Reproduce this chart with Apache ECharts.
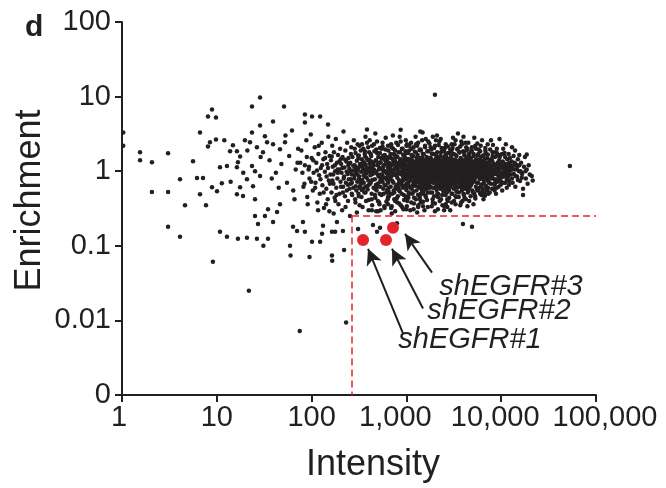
<!DOCTYPE html>
<html>
<head>
<meta charset="utf-8">
<script src="https://cdn.jsdelivr.net/npm/echarts@6/dist/echarts.min.js"></script>
<style>html,body{margin:0;padding:0;background:#fff}#c{width:666px;height:488px}</style>
</head>
<body>
<div id="c"></div>
<script>
// ---- data ----
const xTicks = [1, 10, 100, 1000, 10000, 100000];
const xTickLabels = ['1', '10', '100', '1,000', '10,000', '100,000'];
const yTicks = [0.001, 0.01, 0.1, 1, 10, 100];
const yTickLabels = ['0', '0.01', '0.1', '1', '10', '100'];

const intensityCutoff = 267;
const enrichmentCutoff = 0.255;

// [intensity, enrichment] – sparse, low intensity part of the screen
const lowIntensityPoints = [
[1.03,3.3],[1.03,2.2],[1.55,1.79],[1.55,1.4],[2.07,1.32],[3.06,1.74],[2.07,0.525],[3.06,0.525],[4.09,0.78],[4.62,0.35],
[3.06,0.18],[4.09,0.132],[5.61,1.36],[6.65,3.31],[6.18,0.81],[7.15,0.81],[6.65,0.49],[7.69,0.35],[8.07,5.41],[8.9,6.71],
[9.8,5.25],[8.07,2.15],[8.47,2.44],[9.8,2.67],[8.9,0.61],[10.05,0.54],[10.8,1.13],[11.3,0.69],[10.8,0.154],[12.8,0.132],
[16.7,0.124],[20.8,0.128],[26.5,0.124],[34.7,0.124],[28.6,9.7],[23.5,7.36],[28.6,4.1],[39.2,4.64],[51.2,7.36],[23.5,3.31],
[19.8,2.59],[22.4,2.44],[14.8,2.22],[16.3,1.85],[13.8,1.85],[17.6,1.58],[16.7,1.32],[26.5,2.09],[32.2,2.93],[33.9,2.44],
[30.7,1.79],[12.8,1.17],[16.3,1.13],[23.5,1.17],[25.3,1.0],[28.6,0.86],[20.8,0.78],[24.1,0.63],[17.6,0.61],[16.3,0.49],
[18.9,0.465],[25.3,0.42],[25.3,0.25],[27.2,0.196],[32.2,0.25],[34.7,0.31],[39.2,0.209],[43.2,0.284],[46.4,0.36],[59.2,0.1],
[63.7,0.18],[70.2,0.158],[81,0.209],[85,0.154],[101,0.113],[123,0.113],[129,0.145],[132,0.185],[164,0.154],[185,0.209],
[214,0.158],[254,0.25],[384,3.63],[85,5.75],[101,5.41],[123,5.41],[85,4.5],[149,4.23],[62.1,3.52],[39.2,2.29],
[46.4,1.97],[52.4,2.44],[177,0.154],[309,0.168],[444,0.19],[490,0.154],[527,0.174],[795,0.2],[3950,0.196],[4920,0.18],
[220,0.088],[164,0.074],[231,0.0094],[9.1,0.061],[21.8,0.025],[75,0.0072],[31,0.1],[60,0.074],[95,0.071],[165,0.063],
[36,1.4],[42,0.95],[48,1.25],[55,0.7],[58,1.6],[64,0.55],[68,1.05],[72,2.0],[45,0.6],[38,0.8],
[29,1.55],[21,1.9],[19,0.95],[14,0.72],[12,2.6],[53,3.0],[66,0.42],[71,1.3]
];

// [intensity, enrichment] – the main cloud, outer part
const cloudPoints = [
[78,1.9],[82,0.62],[85,1.2],[88,2.6],[90,0.45],[93,1.05],[95,0.8],[98,3.1],[100,1.5],[103,0.55],[105,0.95],[108,2.1],[110,0.7],[112,1.3],[115,0.38],[118,1.7],[120,0.88],[122,0.5],[125,1.1],[128,2.4],[130,0.65],[133,1.45],[135,0.32],[138,0.98],[140,1.8],[143,0.58],[146,1.25],[148,0.42],[150,2.9],[152,0.75],[155,1.6],[154,0.29],
[158,0.9],[160,1.4],[162,0.52],[165,2.2],[167,1.15],[170,0.68],[172,1.8],[175,0.44],[177,1.0],[180,2.7],[182,0.6],[185,1.3],[187,0.8],[190,1.65],[192,0.36],[195,1.05],[197,0.5],[200,2.0],[202,0.72],[205,1.25],[207,0.95],[210,0.3],[212,1.55],[215,0.62],[217,3.4],[220,0.85],[222,1.12],[225,0.46],[227,1.9],[230,0.7],[232,1.35],[235,0.55],[237,2.4],[240,0.92],[242,0.4],[245,1.5],[247,0.78],[250,1.08],[252,0.58],[171,0.27],[188,1.05],[203,1.45],[228,0.33],[244,1.2],[166,0.75],
[256,1.3],[258,0.68],[262,2.1],[265,0.9],[268,0.48],[270,1.55],[273,1.02],[276,0.6],[279,2.6],[282,0.8],[285,1.2],[288,0.42],[291,1.75],[294,0.95],[297,0.55],[300,1.38],[303,0.72],[306,2.3],[309,1.08],[312,0.5],[315,1.62],[318,0.85],[321,0.35],[324,1.25],[327,0.65],[330,1.9],[333,0.98],[336,0.45],[339,1.45],[342,0.76],[345,1.15],[348,0.58],[351,2.0],[354,0.88],[357,1.32],[360,0.52],[363,1.7],[366,1.0],[369,0.62],[372,1.22],[375,0.4],[378,1.5],[381,0.82],[384,2.4],[387,1.1],[390,0.57],[393,1.4],[396,0.75],[399,0.3],[402,1.05],[405,1.8],[408,0.67],[411,1.28],[260,0.78],[290,1.1],[320,0.6],[350,1.05],[380,0.93],[300,0.28],[370,2.9],
[415,1.15],[420,0.7],[425,1.6],[430,0.5],[435,2.2],[440,0.92],[445,1.3],[450,0.6],[455,1.05],[460,1.85],[465,0.78],[470,0.44],[475,1.4],[480,0.98],[485,0.55],[490,2.5],[495,1.2],[500,0.68],[505,1.55],[510,0.85],[515,0.38],[520,1.1],[525,1.75],[530,0.62],[535,1.32],[540,0.9],[545,0.48],[550,2.0],[555,1.08],[560,0.72],[565,1.48],[570,0.58],[575,1.2],[580,0.82],[585,0.34],[590,1.65],[595,1.0],[600,0.65],[605,2.8],[610,1.25],[615,0.52],[620,0.94],[625,1.42],[630,0.75],[635,0.42],[640,1.12],[645,1.9],[650,0.6],[655,1.3],[660,0.86],[665,0.5],[668,1.55],[418,0.88],[448,1.0],[478,0.66],[508,1.25],[538,0.78],[568,1.02],[598,1.38],[628,0.56],[658,1.05],[432,0.3],[502,0.29],[588,0.32],[470,3.2],[560,2.4],[640,0.36],[428,1.35],[612,0.8],[522,0.5],
[675,1.1],[682,0.62],[688,1.5],[695,0.85],[700,2.1],[708,0.5],[715,1.25],[722,0.96],[730,0.7],[738,1.7],[745,0.42],[752,1.08],[760,1.35],[768,0.58],[775,0.88],[782,2.4],[790,1.15],[798,0.66],[805,1.55],[812,0.46],[820,1.0],[828,1.8],[835,0.76],[842,1.28],[850,0.54],[858,0.95],[865,1.45],[872,0.35],[880,1.12],[888,0.7],[895,2.0],[902,0.9],[910,1.3],[918,0.6],[925,1.65],[932,0.82],[940,0.48],[948,1.2],[955,1.0],[962,0.64],[970,1.5],[978,0.78],[985,2.6],[992,1.05],[1000,0.56],[1008,1.38],[1015,0.9],[1022,0.4],[1030,1.18],[1038,1.75],[1045,0.7],[1052,1.02],[1060,0.52],[1068,1.42],[1075,0.86],[1082,1.25],[1088,0.62],[678,0.78],[705,1.02],[735,0.55],[765,1.22],[795,0.92],[825,0.6],[855,1.2],[885,0.98],[915,0.74],[945,1.4],[975,1.1],[1005,0.68],[1035,0.95],[1065,1.15],[690,0.32],[760,0.29],[850,2.9],[930,0.31],[1010,0.34],[720,3.0],[1070,2.2],[800,0.38],[990,0.45],
[1095,1.05],[1105,0.6],[1115,1.45],[1125,0.82],[1135,2.0],[1145,1.18],[1155,0.5],[1165,0.92],[1175,1.6],[1185,0.7],[1195,1.3],[1205,0.44],[1215,1.0],[1225,1.82],[1235,0.64],[1245,1.22],[1255,0.86],[1265,2.3],[1275,0.55],[1285,1.4],[1295,0.98],[1305,0.74],[1315,1.65],[1325,0.48],[1335,1.12],[1345,0.84],[1355,1.35],[1365,0.6],[1375,1.92],[1385,1.02],[1395,0.68],[1405,1.5],[1415,0.38],[1425,1.15],[1435,0.8],[1445,1.28],[1455,0.56],[1465,2.6],[1475,0.95],[1485,1.42],[1495,0.66],[1505,1.08],[1515,0.5],[1525,1.7],[1535,0.88],[1545,1.25],[1555,0.62],[1565,1.0],[1575,2.1],[1585,0.76],[1595,1.36],[1605,0.45],[1615,1.14],[1625,0.9],[1635,1.55],[1645,0.58],[1655,1.05],[1665,0.72],[1675,1.3],[1685,0.52],[1695,1.85],[1705,0.96],[1715,1.2],[1725,0.66],[1735,1.45],[1745,0.82],[1755,1.1],[1765,0.6],[1100,0.9],[1160,1.25],[1220,0.75],[1280,1.12],[1340,0.95],[1400,0.7],[1460,1.2],[1520,0.85],[1580,1.05],[1640,1.18],[1700,0.78],[1760,0.94],[1190,0.31],[1330,0.33],[1550,0.3],[1250,2.9],[1480,3.3],[1700,2.5],[1390,0.42],
[1780,1.08],[1795,0.62],[1810,1.5],[1825,0.84],[1840,1.95],[1855,1.2],[1870,0.52],[1885,0.95],[1900,1.38],[1915,0.7],[1930,1.7],[1945,1.02],[1960,0.46],[1975,1.28],[1990,0.8],[2005,2.2],[2020,0.6],[2035,1.15],[2050,0.9],[2065,1.5],[2080,0.56],[2095,1.05],[2110,1.8],[2125,0.74],[2140,1.32],[2155,0.5],[2170,0.98],[2185,1.45],[2200,0.66],[2215,1.12],[2230,2.5],[2245,0.86],[2260,1.22],[2275,0.58],[2290,1.6],[2305,0.94],[2320,0.42],[2335,1.18],[2350,0.78],[2365,1.4],[2380,0.62],[2395,1.0],[2410,1.9],[2425,0.72],[2440,1.26],[2455,0.54],[2470,1.08],[2485,0.88],[2500,1.55],[2515,0.64],[2530,1.15],[2545,2.05],[2560,0.8],[2575,1.35],[2590,0.48],[2605,0.98],[2620,1.62],[2635,0.7],[2650,1.2],[2665,0.58],[2680,1.02],[2695,1.48],[2710,0.84],[2725,0.4],[2740,1.1],[2755,1.75],[2770,0.66],[2785,1.25],[2800,0.92],[2815,0.55],[2830,1.42],[2845,1.0],[2860,0.76],[2875,1.3],[1800,0.9],[1880,1.1],[1960,0.75],[2040,1.3],[2120,1.0],[2200,0.85],[2280,1.05],[2360,1.12],[2440,0.92],[2520,0.85],[2600,1.2],[2680,0.76],[2760,1.05],[2840,0.9],[1850,0.34],[2150,0.31],[2600,0.36],[2000,10.6],[1900,2.9],[2300,2.7],[2700,0.33],
[2900,1.12],[2920,0.64],[2945,1.55],[2970,0.86],[2995,1.9],[3020,1.02],[3045,0.5],[3070,1.3],[3095,0.76],[3120,1.7],[3145,0.95],[3170,0.58],[3195,1.22],[3220,2.3],[3245,0.82],[3270,1.42],[3295,0.68],[3320,1.05],[3345,0.45],[3370,1.6],[3395,0.9],[3420,1.18],[3445,0.6],[3470,2.0],[3495,1.0],[3520,0.74],[3545,1.35],[3570,0.52],[3595,1.1],[3620,1.78],[3645,0.84],[3670,1.25],[3695,0.62],[3720,0.98],[3745,1.5],[3770,0.72],[3795,2.5],[3820,1.15],[3845,0.55],[3870,0.92],[3895,1.4],[3920,0.66],[3945,1.06],[3970,1.85],[3995,0.8],[4020,1.28],[4045,0.48],[4070,1.0],[4095,1.62],[4120,0.7],[4145,1.2],[4170,0.88],[4195,0.58],[4220,1.45],[4245,1.02],[4270,2.1],[4295,0.76],[4320,1.3],[4345,0.62],[4370,1.08],[4395,0.9],[4420,1.55],[4445,0.52],[4470,1.16],[4495,0.82],[4520,1.38],[4545,0.68],[4570,1.0],[4595,1.72],[4620,0.6],[4645,1.22],[4670,0.94],[2950,1.0],[3150,1.2],[3350,0.95],[3550,0.88],[3750,1.1],[3950,0.8],[4150,1.05],[4350,0.85],[4550,1.1],[3300,0.36],[3900,0.4],[4400,0.34],[3100,2.8],[4000,2.9],[4500,2.4],
[4720,1.05],[4760,0.64],[4800,1.5],[4840,0.85],[4880,1.9],[4920,1.12],[4960,0.55],[5000,0.98],[5040,1.35],[5080,0.72],[5120,1.7],[5160,0.9],[5200,0.5],[5240,1.22],[5280,0.8],[5320,2.2],[5360,1.02],[5400,0.62],[5440,1.45],[5480,0.88],[5520,1.15],[5560,0.56],[5600,1.62],[5640,0.95],[5680,0.7],[5720,1.3],[5760,0.84],[5800,1.95],[5840,1.06],[5880,0.6],[5920,1.4],[5960,0.78],[6000,1.18],[6040,0.52],[6080,1.55],[6120,0.92],[6160,1.25],[6200,0.66],[6240,1.0],[6280,2.6],[6320,0.8],[6360,1.38],[6400,0.58],[6440,1.1],[6480,0.86],[6520,1.6],[6560,0.7],[6600,1.2],[6640,0.95],[6680,0.5],[6720,1.45],[6760,0.82],[6800,1.08],[6840,1.75],[6880,0.64],[6920,1.28],[6960,0.9],[7000,0.56],[7050,1.15],[7100,0.76],[7150,1.5],[7200,0.98],[7250,0.6],[7300,1.3],[7350,0.84],[7400,1.06],[7450,0.7],[7500,1.4],[7550,0.9],[5100,0.36],[6500,0.42],[7200,2.3],[5600,0.94],[6300,1.04],
[7700,1.1],[7800,0.68],[7900,1.45],[8000,0.86],[8100,1.8],[8200,1.02],[8300,0.58],[8400,1.25],[8500,0.78],[8600,1.55],[8700,0.95],[8800,0.5],[8900,1.15],[9000,2.0],[9100,0.72],[9200,1.3],[9300,0.88],[9400,0.62],[9500,1.4],[9600,1.05],[9700,0.8],[9800,1.65],[9900,0.66],[10000,1.2],[10100,0.92],[10250,0.55],[10400,1.35],[10550,0.84],[10700,1.08],[10850,1.75],[11000,0.7],[11150,1.25],[11300,0.96],[11450,0.6],[11600,1.45],[11750,0.85],[11900,1.15],[12050,0.74],[12200,1.0],[12350,1.5],[8050,1.2],[8650,0.7],[9250,1.0],[9850,1.1],[10450,0.9],[11050,1.02],[11650,0.8],[12150,1.3],[9600,2.7],[11200,2.3],
[12600,0.9],[12900,1.35],[13200,0.7],[13500,1.6],[13800,1.05],[14100,0.62],[14400,1.22],[14700,0.85],[15000,1.45],[15400,1.0],[15800,0.74],[16200,1.3],[16600,0.92],[17000,0.58],[17400,1.15],[17800,1.55],[18200,0.8],[18600,1.05],[19000,0.68],[19500,1.2],[20000,0.9],[13000,1.08],[14800,1.15],[16400,0.95],[18000,1.0],[14000,1.9],[17000,0.48],[21500,0.75],
[21000,0.86],[18600,1.68],[53000,1.17]
];

// [intensity, enrichment] – the dense core of the cloud
const cloudCorePoints = [
[305,0.9],[318,1.15],[332,0.7],[347,1.3],[362,0.85],[377,1.08],[392,0.64],[407,1.42],[422,0.98],[437,0.76],[452,1.2],[467,0.58],[482,1.36],[497,0.9],[512,1.05],[527,0.72],[542,1.5],[557,0.88],[572,1.14],[587,0.66],[602,1.0],[617,1.28],[632,0.84],[647,0.54],[662,1.18],[312,1.48],[338,0.56],[366,1.6],[398,1.0],[433,1.1],[463,0.95],[493,0.62],[523,1.3],[553,0.8],[583,0.98],[613,1.55],[643,0.7],[668,0.95],
[702,1.2],[712,0.74],[726,1.4],[740,0.9],[756,1.06],[770,0.62],[786,1.28],[802,0.82],[818,1.12],[834,0.56],[850,1.36],[866,0.92],[882,0.66],[898,1.2],[914,1.02],[930,0.78],[946,1.55],[962,0.88],[978,1.26],[994,0.6],[1010,1.1],[1026,0.82],[1042,1.46],[1058,0.72],[1074,1.0],[1090,1.3],[1106,0.76],[1122,1.12],[1138,0.58],[1154,1.4],[1170,0.86],[1186,1.04],[1202,0.66],[1218,1.32],[1234,0.94],[1250,1.15],[1266,0.7],[1282,1.52],[1298,0.84],[1314,1.08],[1330,0.62],[1346,1.24],[1362,0.9],[1378,1.36],[1394,0.78],[1410,1.0],[1426,0.6],[1442,1.18],[1458,0.88],[1474,1.5],[1490,0.72],[1506,1.26],[1522,0.96],[1538,0.56],[1554,1.12],[1570,0.8],[1586,1.4],[1602,1.0],[1618,0.68],[1634,1.28],[1650,0.92],[1666,1.14],[1682,0.62],[1698,1.34],[1714,0.86],[1730,1.04],[1746,0.74],[1762,1.5],[1778,0.94],[1794,1.18],[720,0.95],[760,1.5],[800,1.02],[840,0.7],[880,1.3],[920,0.86],[960,1.12],[1000,0.95],[1040,0.66],[1080,1.18],[1120,0.98],[1160,0.64],[1200,1.1],[1240,0.8],[1280,0.95],[1320,1.38],[1360,0.74],[1400,1.2],[1440,0.9],[1480,1.06],[1520,0.7],[1560,1.3],[1600,0.86],[1640,1.02],[1680,1.2],[1720,0.7],[1760,1.26],[1800,0.76],
[1815,1.0],[1835,0.72],[1855,1.36],[1875,0.86],[1895,1.12],[1915,0.6],[1935,1.26],[1955,0.92],[1975,1.05],[1995,0.7],[2015,1.42],[2035,0.82],[2055,1.18],[2075,0.64],[2095,1.3],[2115,0.9],[2135,1.06],[2155,0.76],[2175,1.5],[2195,0.96],[2215,0.62],[2235,1.2],[2255,0.84],[2275,1.1],[2295,0.7],[2315,1.34],[2335,0.9],[2355,1.02],[2375,0.6],[2395,1.24],[2415,0.82],[2435,1.14],[2455,0.68],[2475,1.4],[2495,0.94],[2515,1.08],[2535,0.74],[2555,1.22],[2575,0.58],[2595,1.32],[2615,0.86],[2635,1.04],[2655,0.72],[2675,1.46],[2695,0.9],[2715,1.16],[2735,0.64],[2755,1.28],[2775,0.84],[2795,1.0],[2815,0.7],[2835,1.2],[2855,0.96],[2875,0.6],[2895,1.36],[2915,0.8],[2935,1.1],[2955,0.68],[2975,1.26],[2995,0.9],[3025,1.04],[3055,0.74],[3085,1.44],[3115,0.84],[3145,1.14],[3175,0.66],[3205,1.3],[3235,0.94],[3265,1.06],[3295,0.72],[3325,1.22],[3355,0.86],[3385,1.36],[3415,0.62],[3445,1.12],[3475,0.9],[3505,1.26],[3535,0.7],[3565,1.02],[3595,0.82],[3625,1.4],[3655,0.96],[3685,1.16],[3715,0.68],[3745,1.3],[3775,0.88],[3805,1.04],[3835,0.76],[3865,1.22],[3895,0.6],[3925,1.34],[3955,0.92],[3985,1.1],[4015,0.72],[4045,1.28],[4075,0.84],[4105,1.0],[4135,0.66],[4165,1.4],[4195,0.9],[4225,1.14],[4255,0.74],[4285,1.24],[4315,0.98],[4345,0.58],[4375,1.32],[4405,0.82],[4435,1.06],[4465,0.7],[4495,1.2],[4525,0.94],[4555,1.38],[4585,0.78],[4615,1.08],[4645,0.64],[4675,1.26],[4705,0.88],[4735,1.02],[4765,0.74],[4795,1.16],[4825,0.96],[4855,1.32],[4885,0.68],[4915,1.0],[4945,0.84],[4975,1.2],
[1850,1.06],[1950,0.8],[2050,1.0],[2150,1.2],[2250,0.95],[2350,0.78],[2450,1.0],[2550,0.92],[2650,1.1],[2750,0.98],[2850,1.12],[2950,0.84],[3050,0.92],[3250,0.8],[3450,1.02],[3650,1.08],[3850,0.98],[4050,0.9],[4250,0.96],[4450,1.0],[4650,1.04],[4850,0.9],[2100,0.86],[2400,1.3],[2700,1.24],[3000,1.16],[3300,1.1],[3600,0.96],[3900,1.18],[4200,0.82],[4500,0.86],[4800,1.1],
[5050,1.1],[5150,0.76],[5250,1.34],[5350,0.9],[5450,1.04],[5550,0.7],[5650,1.22],[5750,0.96],[5850,1.4],[5950,0.84],[6050,1.06],[6150,0.66],[6250,1.26],[6350,0.92],[6450,1.14],[6550,0.78],[6650,1.32],[6750,0.98],[6850,0.64],[6950,1.18],[7050,0.88],[7150,1.02],[7300,0.74],[7450,1.24],[7600,0.94],[7750,1.1],[7900,0.8],[8050,1.36],[8200,0.9],[8350,1.06],[8500,0.66],[8650,1.2],[8800,0.92],[8950,1.04],[9100,0.78],[9300,1.26],[9500,0.86],[9700,1.1],[9900,0.74],[10100,1.3],[10300,0.96],[10500,1.18],[10700,0.7],[10900,1.02],[11100,0.88],[11300,1.22],[11500,0.78],[11700,1.06],[11900,0.94],[12100,0.66],[12400,1.2],[12700,1.04],[13000,0.8],[13300,1.18],[13600,0.92],[13900,1.3],[14200,0.86],[14600,1.06],[15000,0.76],[15500,1.2],[16000,1.0],[16500,0.82],[5500,1.0],[6000,0.9],[6500,1.0],[7000,1.1],[7500,0.85],[8000,1.0],[8500,0.95],[9000,1.12],[9500,1.0],[10000,0.85],[11000,1.12],[12000,1.1]
];

// [intensity, enrichment] – upper and lower fringes of the cloud
const cloudFringePoints = [
[320,2.2],[410,2.6],[480,1.95],[560,2.15],[690,2.3],[760,1.9],[870,2.5],[980,1.85],[1120,2.4],[1300,2.2],[1420,1.9],[1600,2.7],[1800,2.1],[2050,2.6],[2350,2.05],[2600,2.3],[2900,1.95],[3300,2.6],[3700,2.15],[4200,2.4],[4900,2.1],[5600,2.35],[6800,2.05],[8200,2.25],[10500,2.0],[13000,2.1],[3500,3.2],[2100,3.0],[1400,3.4],[870,3.6],[5200,2.8],[7800,2.6],[1000,2.2],[3000,2.3],[4400,2.0],[6000,1.85],[9000,1.75],[12000,1.7],[15500,1.65],[2500,1.85],
[430,0.42],[520,0.36],[640,0.45],[760,0.4],[900,0.33],[1050,0.44],[1200,0.37],[1380,0.46],[1500,0.34],[1650,0.41],[1900,0.38],[2150,0.45],[2400,0.35],[2700,0.42],[3000,0.38],[3300,0.46],[3700,0.35],[4100,0.44],[4600,0.4],[5300,0.46],[6200,0.48],[7300,0.5],[480,0.29],[700,0.27],[1300,0.28],[2000,0.29],[2900,0.3],
[260,1.7],[285,2.0],[310,1.6],[340,2.3],[365,1.85],[395,2.1],[420,1.7],[455,2.3],[490,1.75],[525,2.05],[565,1.6],[600,1.95],[640,2.2],[680,1.7],[725,2.0],[770,1.62],[815,2.25],[860,1.8],[910,2.0],[960,1.68],[1015,2.3],[1070,1.9],[1130,1.65],[1190,2.1],[1260,1.78],[1330,2.4],[1410,1.95],[1490,1.7],[1570,2.2],[1660,1.85],[1750,2.35],[1850,1.72],[1960,2.05],[2070,1.62],[2190,2.25],[2320,1.8],[2450,2.0],[2590,1.66],[2740,2.15],[2900,1.75],[3070,2.05],[3250,1.68],[3440,1.95],[3640,1.8],[3850,2.3],[4080,1.7],[4320,1.9],[4570,1.65],[4840,1.85],[5120,1.6],[5420,2.0],[5740,1.7],[6080,2.2],[6440,1.62],[6820,1.9],[7220,1.68],[7650,1.95],[8100,1.6],[8580,1.8],[9100,1.62],[9650,1.55],[10200,1.7],[11000,1.55],
[265,0.5],[290,0.38],[315,0.46],[345,0.33],[370,0.52],[400,0.41],[435,0.35],[465,0.48],[500,0.4],[535,0.3],[575,0.5],[615,0.39],[655,0.46],[700,0.34],[745,0.52],[790,0.43],[840,0.37],[890,0.5],[945,0.41],[1000,0.31],[1060,0.49],[1125,0.38],[1190,0.53],[1260,0.42],[1335,0.35],[1415,0.5],[1500,0.39],[1590,0.47],[1685,0.33],[1785,0.52],[1890,0.42],[2000,0.37],[2120,0.5],[2245,0.4],[2380,0.48],[2520,0.34],[2670,0.52],[2830,0.44],[3000,0.5],[3180,0.4],[3370,0.53],[3570,0.45],[3780,0.38],[4000,0.5],[4240,0.42],[4490,0.55],[4760,0.46],[5040,0.52],[5340,0.43],[5660,0.55],[6000,0.5],[6360,0.54],[6740,0.47],[7140,0.56],[7570,0.52],[8020,0.58],[8500,0.55],[9000,0.6],[1100,0.3],[2500,0.3],
[76,1.3],[80,0.95],[84,0.68],[89,1.55],[94,1.15],[99,0.72],[104,1.4],[109,0.6],[114,1.02],[119,2.2],[124,0.78],[129,1.2],[134,0.52],[139,1.5],[144,0.85],[149,1.1],[156,0.68],[163,1.58],[169,0.9],[176,1.2],[183,0.48],[189,0.95],[196,1.35],[204,0.62],[211,1.1],[218,0.8],[226,1.42],[234,0.98],[241,0.66],[249,1.28],[257,1.0],[266,0.7],[275,1.18],[284,0.88],[293,0.63],[302,1.02],[316,0.78],[335,1.2],[355,0.7],[376,0.96],[91,0.36],[117,0.3],[142,0.36],[178,0.4],[214,0.52]
];

// shEGFR hits (red)
const hitNames = ['shEGFR#1', 'shEGFR#2', 'shEGFR#3'];
const hitIntensity = [349, 609, 722];
const hitEnrichment = [0.12, 0.12, 0.174];

// ---- chart ----
const FONT = 'Liberation Sans, Arial, Helvetica, sans-serif';
const INK = '#231f20';
const RED = '#e3242b';
const TICK_FONT = 29;

// small horizontal nudges of the x tick labels, as printed in the figure
const xLabelNudge = [-3, 0, 0, -11, -6, 9];
const xRich = {};
xLabelNudge.forEach((d, i) => {
  xRich['s' + i] = {
    fontFamily: FONT, fontSize: TICK_FONT, color: INK,
    padding: d < 0 ? [0, -2 * d, 0, 0] : [0, 0, 0, 2 * d]
  };
});

function tickIndex(ticks, v) {
  for (let i = 0; i < ticks.length; i++) {
    if (Math.abs(Math.log10(ticks[i]) - Math.log10(v)) < 1e-6) return i;
  }
  return -1;
}

const chart = echarts.init(document.getElementById('c'), null, { renderer: 'canvas' });
chart.setOption({
  animation: false,
  backgroundColor: '#fff',
  title: {
    text: 'd', left: 20, top: 8,
    textStyle: { fontFamily: FONT, fontSize: 30, fontWeight: 'bold', color: INK }
  },
  grid: { left: 122, right: 70, top: 22, bottom: 91 },
  xAxis: {
    type: 'log', logBase: 10, min: xTicks[0], max: xTicks[xTicks.length - 1],
    name: 'Intensity', nameLocation: 'middle', nameGap: 52,
    nameTextStyle: { fontFamily: FONT, fontSize: 36, color: INK, padding: [0, 0, 0, 28] },
    axisLine: { show: true, lineStyle: { color: INK, width: 2 } },
    axisTick: { show: true, inside: false, length: 7, lineStyle: { color: INK, width: 2 } },
    axisLabel: {
      fontFamily: FONT, fontSize: TICK_FONT, color: INK, margin: 8,
      formatter: v => { const i = tickIndex(xTicks, v); return i < 0 ? '' : '{s' + i + '|' + xTickLabels[i] + '}'; },
      rich: xRich
    },
    splitLine: { show: false }
  },
  yAxis: {
    type: 'log', logBase: 10, min: yTicks[0], max: yTicks[yTicks.length - 1],
    name: 'Enrichment', nameLocation: 'middle', nameGap: 74, nameMoveOverlap: false,
    nameTextStyle: { fontFamily: FONT, fontSize: 36, color: INK, padding: [0, 0, 0, 16] },
    axisLine: { show: true, lineStyle: { color: INK, width: 2 } },
    axisTick: { show: true, inside: false, length: 7, lineStyle: { color: INK, width: 2 } },
    axisLabel: {
      fontFamily: FONT, fontSize: TICK_FONT, color: INK, margin: 11,
      formatter: v => { const i = tickIndex(yTicks, v); return i < 0 ? '' : yTickLabels[i]; }
    },
    splitLine: { show: false }
  },
  series: [
    {
      type: 'scatter', name: 'screen',
      data: lowIntensityPoints.concat(cloudPoints, cloudCorePoints, cloudFringePoints),
      symbol: 'circle', symbolSize: 4.5,
      itemStyle: { color: INK, opacity: 1 },
      silent: true, z: 2
    },
    {
      type: 'scatter', name: 'cutoff', data: [], z: 3, silent: true,
      markLine: {
        silent: true, symbol: ['none', 'none'], label: { show: false },
        lineStyle: { color: RED, width: 1.5, type: [7, 4] },
        data: [
          [{ coord: [intensityCutoff, enrichmentCutoff] }, { coord: [xTicks[xTicks.length - 1], enrichmentCutoff] }],
          [{ coord: [intensityCutoff, enrichmentCutoff] }, { coord: [intensityCutoff, yTicks[0]] }]
        ]
      }
    },
    {
      type: 'scatter', name: 'hits',
      data: hitIntensity.map((x, i) => [x, hitEnrichment[i]]),
      symbol: 'circle', symbolSize: 12,
      itemStyle: { color: RED, opacity: 1 },
      silent: true, z: 5
    },
    {
      type: 'scatter', name: 'annotations', data: [], z: 6, silent: true,
      markLine: {
        silent: true, symbol: ['none', 'arrow'], symbolSize: [12, 16], label: { show: false },
        lineStyle: { color: INK, width: 2, type: 'solid', opacity: 1 },
        data: [
          [{ coord: [921, 0.0067] }, { coord: [394, 0.0912] }],
          [{ coord: [1497, 0.01445] }, { coord: [705, 0.0912] }],
          [{ coord: [1862, 0.0437] }, { coord: [967, 0.1445] }]
        ]
      },
      markPoint: {
        silent: true, symbol: 'circle', symbolSize: 0,
        label: {
          show: true, position: 'inside', fontFamily: FONT, fontSize: 29, fontStyle: 'italic', color: INK,
          formatter: p => p.name
        },
        data: [
          { name: hitNames[0], coord: [4690, 0.0054] },
          { name: hitNames[1], coord: [9480, 0.0132] },
          { name: hitNames[2], coord: [12690, 0.0284] }
        ]
      }
    }
  ]
});
</script>
</body>
</html>
